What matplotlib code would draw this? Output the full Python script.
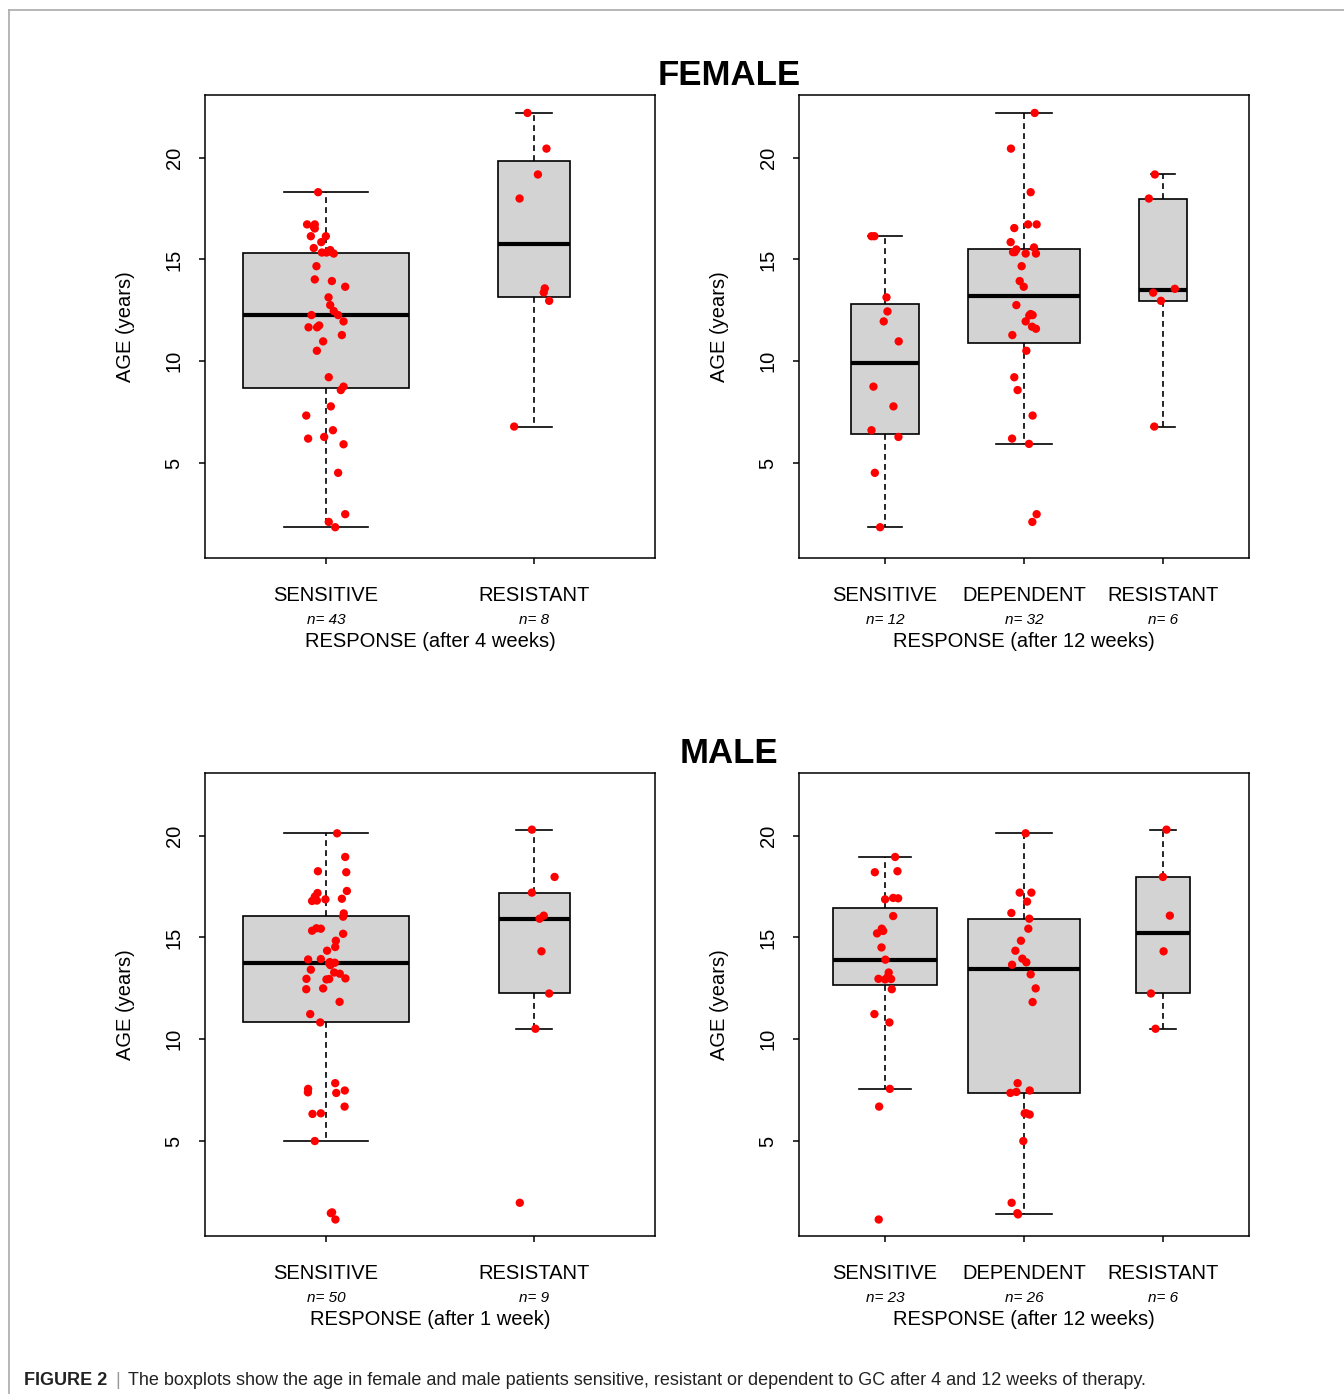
import numpy as np
import matplotlib
matplotlib.use("Agg")
import matplotlib.pyplot as plt
from matplotlib.lines import Line2D

plt.rcParams['font.family'] = ['Liberation Sans', 'DejaVu Sans']

# ---- FEMALE, response after 4 weeks ----
f4_groups = ["SENSITIVE", "RESISTANT"]
f4_n = [43, 8]
f4_med = [12.27, 15.78]
f4_q1 = [8.68, 13.17]
f4_q3 = [15.31, 19.82]
f4_lo = [1.86, 6.80]
f4_hi = [18.30, 22.19]
f4_sens_age = [18.30, 16.72, 16.72, 16.52, 16.60, 16.14, 16.14, 15.85, 15.56, 15.34,
               15.34, 15.39, 15.46, 15.29, 14.67, 14.02, 13.94, 13.66, 13.14, 12.76,
               12.47, 12.27, 12.27, 11.96, 11.67, 11.67, 11.76, 11.29, 10.98, 10.52,
               9.22, 8.76, 8.59, 7.79, 7.34, 6.62, 6.21, 6.29, 5.93, 4.53,
               2.50, 2.12, 1.86]
f4_sens_jit = [-0.037, -0.090, -0.053, -0.053, -0.058, -0.072, 0.000, -0.022, -0.058, -0.019,
               0.003, 0.016, 0.021, 0.038, -0.045, -0.053, 0.029, 0.093, 0.013, 0.021,
               0.038, 0.059, -0.069, 0.085, -0.083, -0.042, -0.032, 0.077, -0.013, -0.043,
               0.014, 0.085, 0.072, 0.024, -0.094, 0.034, -0.085, -0.008, 0.085, 0.059,
               0.093, 0.014, 0.045]
f4_res_age = [22.19, 20.44, 19.17, 17.99, 13.58, 13.38, 12.97, 6.80]
f4_res_jit = [-0.032, 0.059, 0.018, -0.070, 0.051, 0.046, 0.072, -0.096]

# ---- FEMALE, response after 12 weeks ----
f12_groups = ["SENSITIVE", "DEPENDENT", "RESISTANT"]
f12_n = [12, 32, 6]
f12_med = [9.90, 13.22, 13.48]
f12_q1 = [6.45, 10.90, 12.97]
f12_q3 = [12.79, 15.51, 17.99]
f12_lo = [1.86, 5.95, 6.80]
f12_hi = [16.14, 22.19, 19.17]
f12_sens_age = [16.14, 16.14, 13.14, 12.45, 11.96, 10.98, 8.76, 7.79, 6.62, 6.29, 4.53, 1.86]
f12_sens_jit = [-0.098, -0.077, 0.010, 0.017, -0.010, 0.098, -0.084, 0.060, -0.098, 0.096, -0.074, -0.036]
f12_dep_age = [22.19, 20.44, 18.30, 16.72, 16.72, 16.54, 15.85, 15.49, 15.36, 15.36,
               15.59, 15.29, 15.29, 14.67, 13.94, 13.66, 12.76, 12.27, 12.25, 12.32,
               11.96, 11.70, 11.60, 11.29, 10.52, 9.22, 8.59, 7.34, 6.21, 5.95,
               2.50, 2.12]
f12_dep_jit = [0.077, -0.094, 0.048, 0.029, 0.091, -0.070, -0.096, -0.055, -0.079, -0.067,
               0.072, 0.012, 0.086, -0.017, -0.031, -0.002, -0.055, 0.062, 0.038, 0.048,
               0.012, 0.058, 0.086, -0.084, 0.017, -0.070, -0.046, 0.062, -0.086, 0.036,
               0.091, 0.060]
f12_res_age = [19.17, 17.99, 13.56, 13.37, 12.97, 6.80]
f12_res_jit = [-0.058, -0.101, 0.086, -0.070, -0.014, -0.062]

# ---- MALE, response after 1 week ----
m1_groups = ["SENSITIVE", "RESISTANT"]
m1_n = [50, 9]
m1_med = [13.73, 15.92]
m1_q1 = [10.83, 12.25]
m1_q3 = [16.05, 17.20]
m1_lo = [5.01, 10.52]
m1_hi = [20.11, 20.29]
m1_sens_age = [20.11, 18.95, 18.25, 18.20, 17.28, 17.18, 17.00, 16.79, 16.81, 16.87,
               16.90, 16.18, 16.02, 15.33, 15.45, 15.43, 15.18, 14.84, 14.53, 14.35,
               13.92, 13.94, 13.79, 13.76, 13.73, 13.42, 13.64, 13.28, 13.22, 12.99,
               12.97, 12.94, 12.96, 12.46, 12.50, 11.84, 11.24, 10.83, 7.85, 7.57,
               7.40, 7.37, 7.49, 6.70, 6.34, 6.37, 5.01, 1.47, 1.51, 1.16]
m1_sens_jit = [0.054, 0.093, -0.038, 0.098, 0.101, -0.040, -0.053, -0.066, -0.043, -0.002,
               0.077, 0.086, 0.083, -0.066, -0.045, -0.024, 0.083, 0.048, 0.045, 0.006,
               -0.085, -0.024, 0.019, 0.043, 0.016, -0.072, 0.022, 0.040, 0.067, 0.094,
               -0.093, 0.003, 0.016, -0.094, -0.013, 0.066, -0.075, -0.027, 0.045, -0.085,
               -0.086, 0.050, 0.091, 0.090, -0.064, -0.024, -0.053, 0.024, 0.030, 0.046]
m1_res_age = [20.29, 17.97, 17.20, 16.07, 15.92, 14.32, 12.25, 10.52, 1.98]
m1_res_jit = [-0.011, 0.098, -0.011, 0.046, 0.026, 0.035, 0.072, 0.006, -0.069]

# ---- MALE, response after 12 weeks ----
m12_groups = ["SENSITIVE", "DEPENDENT", "RESISTANT"]
m12_n = [23, 26, 6]
m12_med = [13.91, 13.43, 15.20]
m12_q1 = [12.69, 7.37, 12.25]
m12_q3 = [16.46, 15.92, 17.97]
m12_lo = [7.57, 1.41, 10.52]
m12_hi = [18.95, 20.11, 20.29]
m12_sens_age = [18.95, 18.20, 18.25, 16.87, 16.94, 16.92, 16.05, 15.43, 15.32, 15.20,
                14.51, 13.91, 13.28, 13.07, 12.97, 12.94, 12.96, 12.46, 11.24, 10.83,
                7.57, 6.70, 1.16]
m12_sens_jit = [0.072, -0.074, 0.089, 0.000, 0.058, 0.094, 0.058, -0.024, -0.014, -0.058,
                -0.026, 0.002, 0.026, 0.019, -0.048, 0.000, 0.043, 0.048, -0.077, 0.031,
                0.034, -0.043, -0.046]
m12_dep_age = [20.11, 17.20, 17.20, 16.76, 16.20, 15.92, 15.43, 14.84, 14.35, 13.96,
               13.78, 13.66, 13.19, 12.50, 11.83, 7.85, 7.37, 7.42, 7.49, 6.37,
               6.37, 6.31, 5.01, 1.98, 1.47, 1.41]
m12_dep_jit = [0.012, -0.031, 0.053, 0.022, -0.091, 0.038, 0.031, -0.022, -0.062, -0.012,
               0.017, -0.086, 0.048, 0.084, 0.062, -0.046, -0.098, -0.055, 0.041, 0.005,
               0.017, 0.041, -0.005, -0.089, -0.048, -0.043]
m12_res_age = [20.29, 17.97, 16.07, 14.32, 12.25, 10.52]
m12_res_jit = [0.026, 0.000, 0.050, 0.005, -0.086, -0.053]

y_ticks = [5, 10, 15, 20]
caption_bold = "FIGURE 2"
caption_text = ("The boxplots show the age in female and male patients sensitive, resistant "
                "or dependent to GC after 4 and 12 weeks of therapy.")

W, H = 1344, 1394
PT = 0.72  # points per pixel at dpi 100


def draw_panel(ax, groups, n, med, q1, q3, lo, hi, ages, jits, xlabel):
    k = len(groups)
    pos = np.arange(1, k + 1)
    # varwidth boxes: width proportional to sqrt(n)
    widths = 0.8 * np.sqrt(np.array(n)) / np.sqrt(max(n))
    stats = []
    for i in range(k):
        stats.append(dict(med=med[i], q1=q1[i], q3=q3[i], whislo=lo[i], whishi=hi[i]))
    ax.bxp(stats, positions=pos, widths=widths, capwidths=widths * 0.5,
           showfliers=False, patch_artist=True,
           boxprops=dict(facecolor="#d3d3d3", edgecolor="black", linewidth=1.2),
           medianprops=dict(color="black", linewidth=3.0, solid_capstyle="butt"),
           whiskerprops=dict(color="black", linewidth=1.2, linestyle=(0, (3.5, 2.5))),
           capprops=dict(color="black", linewidth=1.2))
    for i in range(k):
        ax.scatter(pos[i] + np.array(jits[i]), ages[i], s=36, color="red",
                   edgecolors="none", zorder=5)

    ax.set_xlim(0.5 - 0.04 * k, k + 0.5 + 0.04 * k)
    ax.set_ylim(0.35, 23.07)
    ax.set_xticks(pos)
    ax.set_xticklabels([])
    ax.set_yticks(y_ticks)
    ax.set_yticklabels([str(t) for t in y_ticks], rotation=90, va="center", fontsize=14.5)
    ax.tick_params(direction="out", length=6 * PT, width=1.1, colors="black")
    ax.tick_params(axis="y", pad=11)
    for s in ax.spines.values():
        s.set_linewidth(1.1)

    for i in range(k):
        ax.annotate(groups[i], xy=(pos[i], 0), xycoords=("data", "axes fraction"),
                    xytext=(0, -43 * PT), textcoords="offset points",
                    ha="center", va="baseline", fontsize=14.5)
        ax.annotate("n= %d" % n[i], xy=(pos[i], 0), xycoords=("data", "axes fraction"),
                    xytext=(0, -66 * PT), textcoords="offset points",
                    ha="center", va="baseline", fontsize=11, style="italic")
    ax.annotate(xlabel, xy=(0.5, 0), xycoords="axes fraction",
                xytext=(0, -89 * PT), textcoords="offset points",
                ha="center", va="baseline", fontsize=14.5)
    ax.annotate("AGE (years)", xy=(0, 0.5), xycoords="axes fraction",
                xytext=(-80 * PT, 0), textcoords="offset points",
                ha="center", va="center", rotation=90, fontsize=14.5)


fig = plt.figure(figsize=(W / 100, H / 100), dpi=100)


def add_axes(x0, y0, x1, y1):
    return fig.add_axes([x0 / W, 1 - y1 / H, (x1 - x0) / W, (y1 - y0) / H])


ax1 = add_axes(205, 95, 655, 558)
ax2 = add_axes(799, 95, 1249, 558)
ax3 = add_axes(205, 773, 655, 1236)
ax4 = add_axes(799, 773, 1249, 1236)

draw_panel(ax1, f4_groups, f4_n, f4_med, f4_q1, f4_q3, f4_lo, f4_hi,
           [f4_sens_age, f4_res_age], [f4_sens_jit, f4_res_jit],
           "RESPONSE (after 4 weeks)")
draw_panel(ax2, f12_groups, f12_n, f12_med, f12_q1, f12_q3, f12_lo, f12_hi,
           [f12_sens_age, f12_dep_age, f12_res_age], [f12_sens_jit, f12_dep_jit, f12_res_jit],
           "RESPONSE (after 12 weeks)")
draw_panel(ax3, m1_groups, m1_n, m1_med, m1_q1, m1_q3, m1_lo, m1_hi,
           [m1_sens_age, m1_res_age], [m1_sens_jit, m1_res_jit],
           "RESPONSE (after 1 week)")
draw_panel(ax4, m12_groups, m12_n, m12_med, m12_q1, m12_q3, m12_lo, m12_hi,
           [m12_sens_age, m12_dep_age, m12_res_age], [m12_sens_jit, m12_dep_jit, m12_res_jit],
           "RESPONSE (after 12 weeks)")

fig.text(729 / W, 1 - 85 / H, "FEMALE", ha="center", va="baseline",
         fontsize=25, fontweight="bold")
fig.text(729 / W, 1 - 763 / H, "MALE", ha="center", va="baseline",
         fontsize=25, fontweight="bold")

# grey frame lines of the figure panel
fig.add_artist(Line2D([9 / W, 9 / W], [0, 1 - 10 / H], color="#aaaaaa", linewidth=1.2))
fig.add_artist(Line2D([9 / W, 1], [1 - 10 / H, 1 - 10 / H], color="#aaaaaa", linewidth=1.2))

# caption
renderer = fig.canvas.get_renderer()
cy = 1 - 1385 / H
t1 = fig.text(24 / W, cy, caption_bold, ha="left", va="baseline",
              fontsize=13, fontweight="bold", color="#222222")
x = t1.get_window_extent(renderer).x1 + 8
t2 = fig.text(x / W, cy, "|", ha="left", va="baseline", fontsize=13, color="#999999")
x = t2.get_window_extent(renderer).x1 + 8
fig.text(x / W, cy, caption_text, ha="left", va="baseline", fontsize=13, color="#222222")

fig.savefig("out.png", dpi=100)
